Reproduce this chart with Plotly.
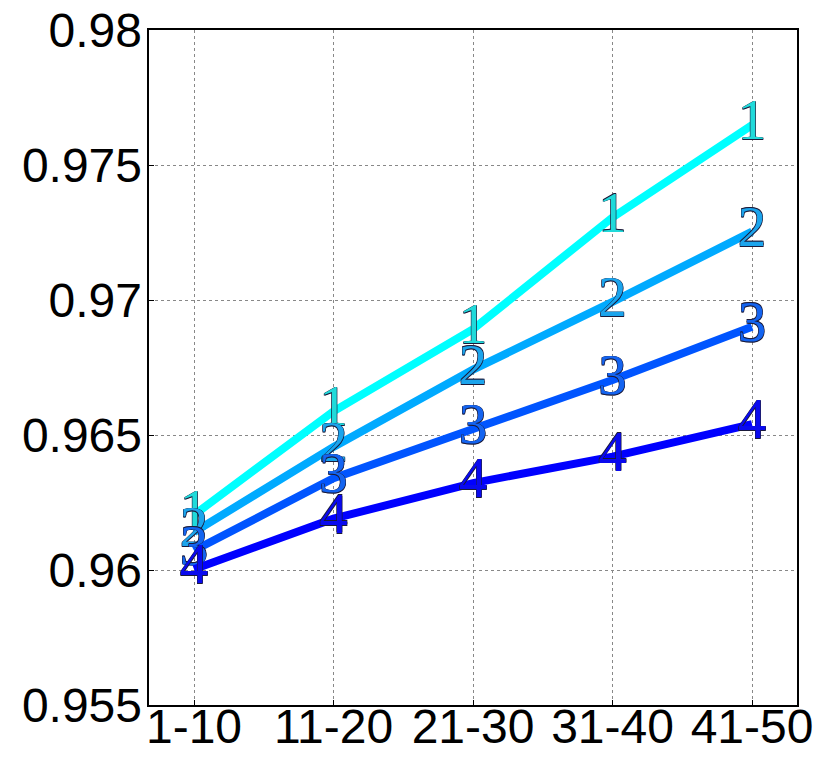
import plotly.graph_objects as go

categories = ["1-10", "11-20", "21-30", "31-40", "41-50"]
series_names = ["1", "2", "3", "4"]
s1 = [0.96204, 0.96588, 0.96892, 0.97306, 0.97648]
s2 = [0.96140, 0.96456, 0.96742, 0.96993, 0.97253]
s3 = [0.96072, 0.96340, 0.96522, 0.96704, 0.96901]
s4 = [0.96003, 0.96190, 0.96322, 0.96420, 0.96540]
line_colors = ["#00FFFF", "#00AAFF", "#0055FF", "#0000FF"]
text_colors = ["#20DADA", "#1CA4EC", "#1464F0", "#0A0AEE"]
y_ticks = [0.955, 0.96, 0.965, 0.97, 0.975, 0.98]
y_ticktext = ["0.955", "0.96", "0.965", "0.97", "0.975", "0.98"]

outline = ("0.6px 0.6px 0 #1a1a3a, -0.6px -0.6px 0 #1a1a3a, "
           "0.6px -0.6px 0 #1a1a3a, -0.6px 0.6px 0 #1a1a3a")

fig = go.Figure()
x_idx = list(range(len(categories)))
for name, vals, lc, tc in zip(series_names, [s1, s2, s3, s4], line_colors, text_colors):
    fig.add_trace(go.Scatter(
        x=x_idx, y=vals, mode="lines+text",
        line=dict(color=lc, width=8),
        text=[name] * len(vals),
        textposition="middle center",
        textfont=dict(family="Liberation Serif", size=57, color=tc,
                      shadow=outline),
        showlegend=False, cliponaxis=False, hoverinfo="skip",
    ))
# invisible traces so that the label-only axes are drawn
fig.add_trace(go.Scatter(x=x_idx, y=s1, xaxis="x2", yaxis="y", mode="none",
                         showlegend=False, hoverinfo="skip"))
fig.add_trace(go.Scatter(x=x_idx, y=s1, xaxis="x", yaxis="y2", mode="none",
                         showlegend=False, hoverinfo="skip"))

tick_font = dict(family="Liberation Sans", size=48, color="black")
axis_common = dict(
    showline=True, linecolor="black", linewidth=1.5, mirror=True,
    showgrid=True, gridcolor="#888888", griddash="dot", gridwidth=1,
    zeroline=False, ticks="inside", ticklen=5, tickcolor="black",
    tickfont=tick_font, automargin=False,
)
xrange = [-0.3226, 4.3226]
yrange = [0.955, 0.98]
fig.update_layout(
    xaxis=dict(tickmode="array", tickvals=x_idx, ticktext=categories,
               range=xrange, showticklabels=False, **axis_common),
    xaxis2=dict(tickmode="array", tickvals=x_idx, ticktext=categories,
                range=xrange, overlaying="x", anchor="free", position=0.016,
                side="bottom", showline=False, showgrid=False, zeroline=False,
                ticks="", tickfont=tick_font, automargin=False),
    yaxis=dict(tickmode="array", tickvals=y_ticks, ticktext=y_ticktext,
               range=yrange, showticklabels=False, **axis_common),
    yaxis2=dict(tickmode="array", tickvals=y_ticks, ticktext=y_ticktext,
                range=yrange, overlaying="y", anchor="free", position=0,
                ticklabelstandoff=7,
                side="left", showline=False, showgrid=False, zeroline=False,
                ticks="", tickfont=tick_font, automargin=False),
    width=830, height=767,
    margin=dict(l=149, r=33, t=30, b=62),
    plot_bgcolor="white", paper_bgcolor="white",
)
fig.write_html("out.html", config={"displayModeBar": False},
               post_script="document.body.style.margin='0px';")
